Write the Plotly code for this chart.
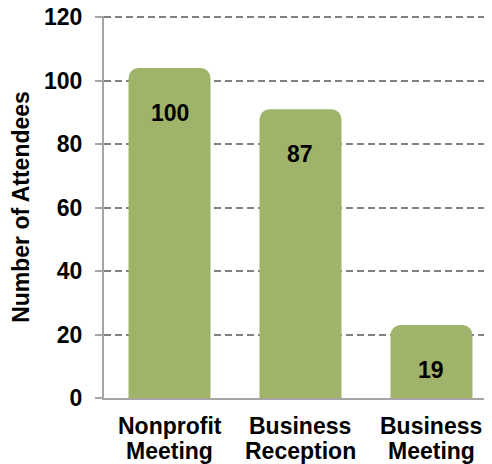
import plotly.graph_objects as go

# ---- data ----
categories = ["Nonprofit<br>Meeting", "Business<br>Reception", "Business<br>Meeting"]
attendees = [100, 87, 19]
y_ticks = [0, 20, 40, 60, 80, 100, 120]
y_title = "Number of Attendees"

# ---- style ----
BAR_COLOR = "#9fb46a"
FONT = "Liberation Sans, Arial, Helvetica, sans-serif"
CAP = 4  # rounded cap drawn above the value (visual style of the original)
LABEL_FIRST_SHIFT = 28   # px below the axis for first label line
LABEL_LINE_GAP = 25      # px between label lines

fig = go.Figure()
fig.add_trace(go.Bar(
    x=categories,
    y=[v + CAP for v in attendees],
    customdata=attendees,
    hovertemplate="%{x}: %{customdata}<extra></extra>",
    marker=dict(color=BAR_COLOR, line=dict(width=0)),
    width=0.626,
))

# value labels inside the bars
for c, v in zip(categories, attendees):
    fig.add_annotation(
        x=c, y=v, text=f"<b>{v}</b>", showarrow=False,
        yshift=-32, font=dict(family=FONT, size=23, color="black"),
    )

# category labels (two lines, tighter line spacing than plotly's default)
for c in categories:
    for i, line in enumerate(c.split("<br>")):
        fig.add_annotation(
            x=c, y=0, text=f"<b>{line}</b>", showarrow=False,
            yanchor="middle", yshift=-(LABEL_FIRST_SHIFT + i * LABEL_LINE_GAP),
            font=dict(family=FONT, size=23, color="black"),
        )

# page has an 8px body margin, so the figure is sized to fit the window
fig.update_layout(
    width=484, height=456,
    margin=dict(l=96, r=0, t=8, b=66),
    paper_bgcolor="white", plot_bgcolor="white",
    barcornerradius=10,
    showlegend=False,
    font=dict(family=FONT, color="black"),
)

fig.update_xaxes(
    range=[-0.5, 2.462],
    automargin=False,
    showgrid=False,
    showline=True, linecolor="#a6a6a6", linewidth=2,
    ticks="", showticklabels=False,
)

fig.update_yaxes(
    range=[0, 120.4],
    automargin=False,
    tickvals=y_ticks,
    ticklabeloverflow="allow",
    showgrid=True, gridcolor="#808080", gridwidth=2, griddash="7px,4px",
    zeroline=False,
    showline=True, linecolor="#a6a6a6", linewidth=2,
    ticks="outside", ticklen=7, tickcolor="#a6a6a6", tickwidth=2,
    ticklabelstandoff=8,
    tickfont=dict(family=FONT, size=23, color="black", weight="bold"),
    title=dict(text=y_title, standoff=12,
               font=dict(family=FONT, size=23, color="black", weight="bold")),
)

fig.write_html("out.html")
